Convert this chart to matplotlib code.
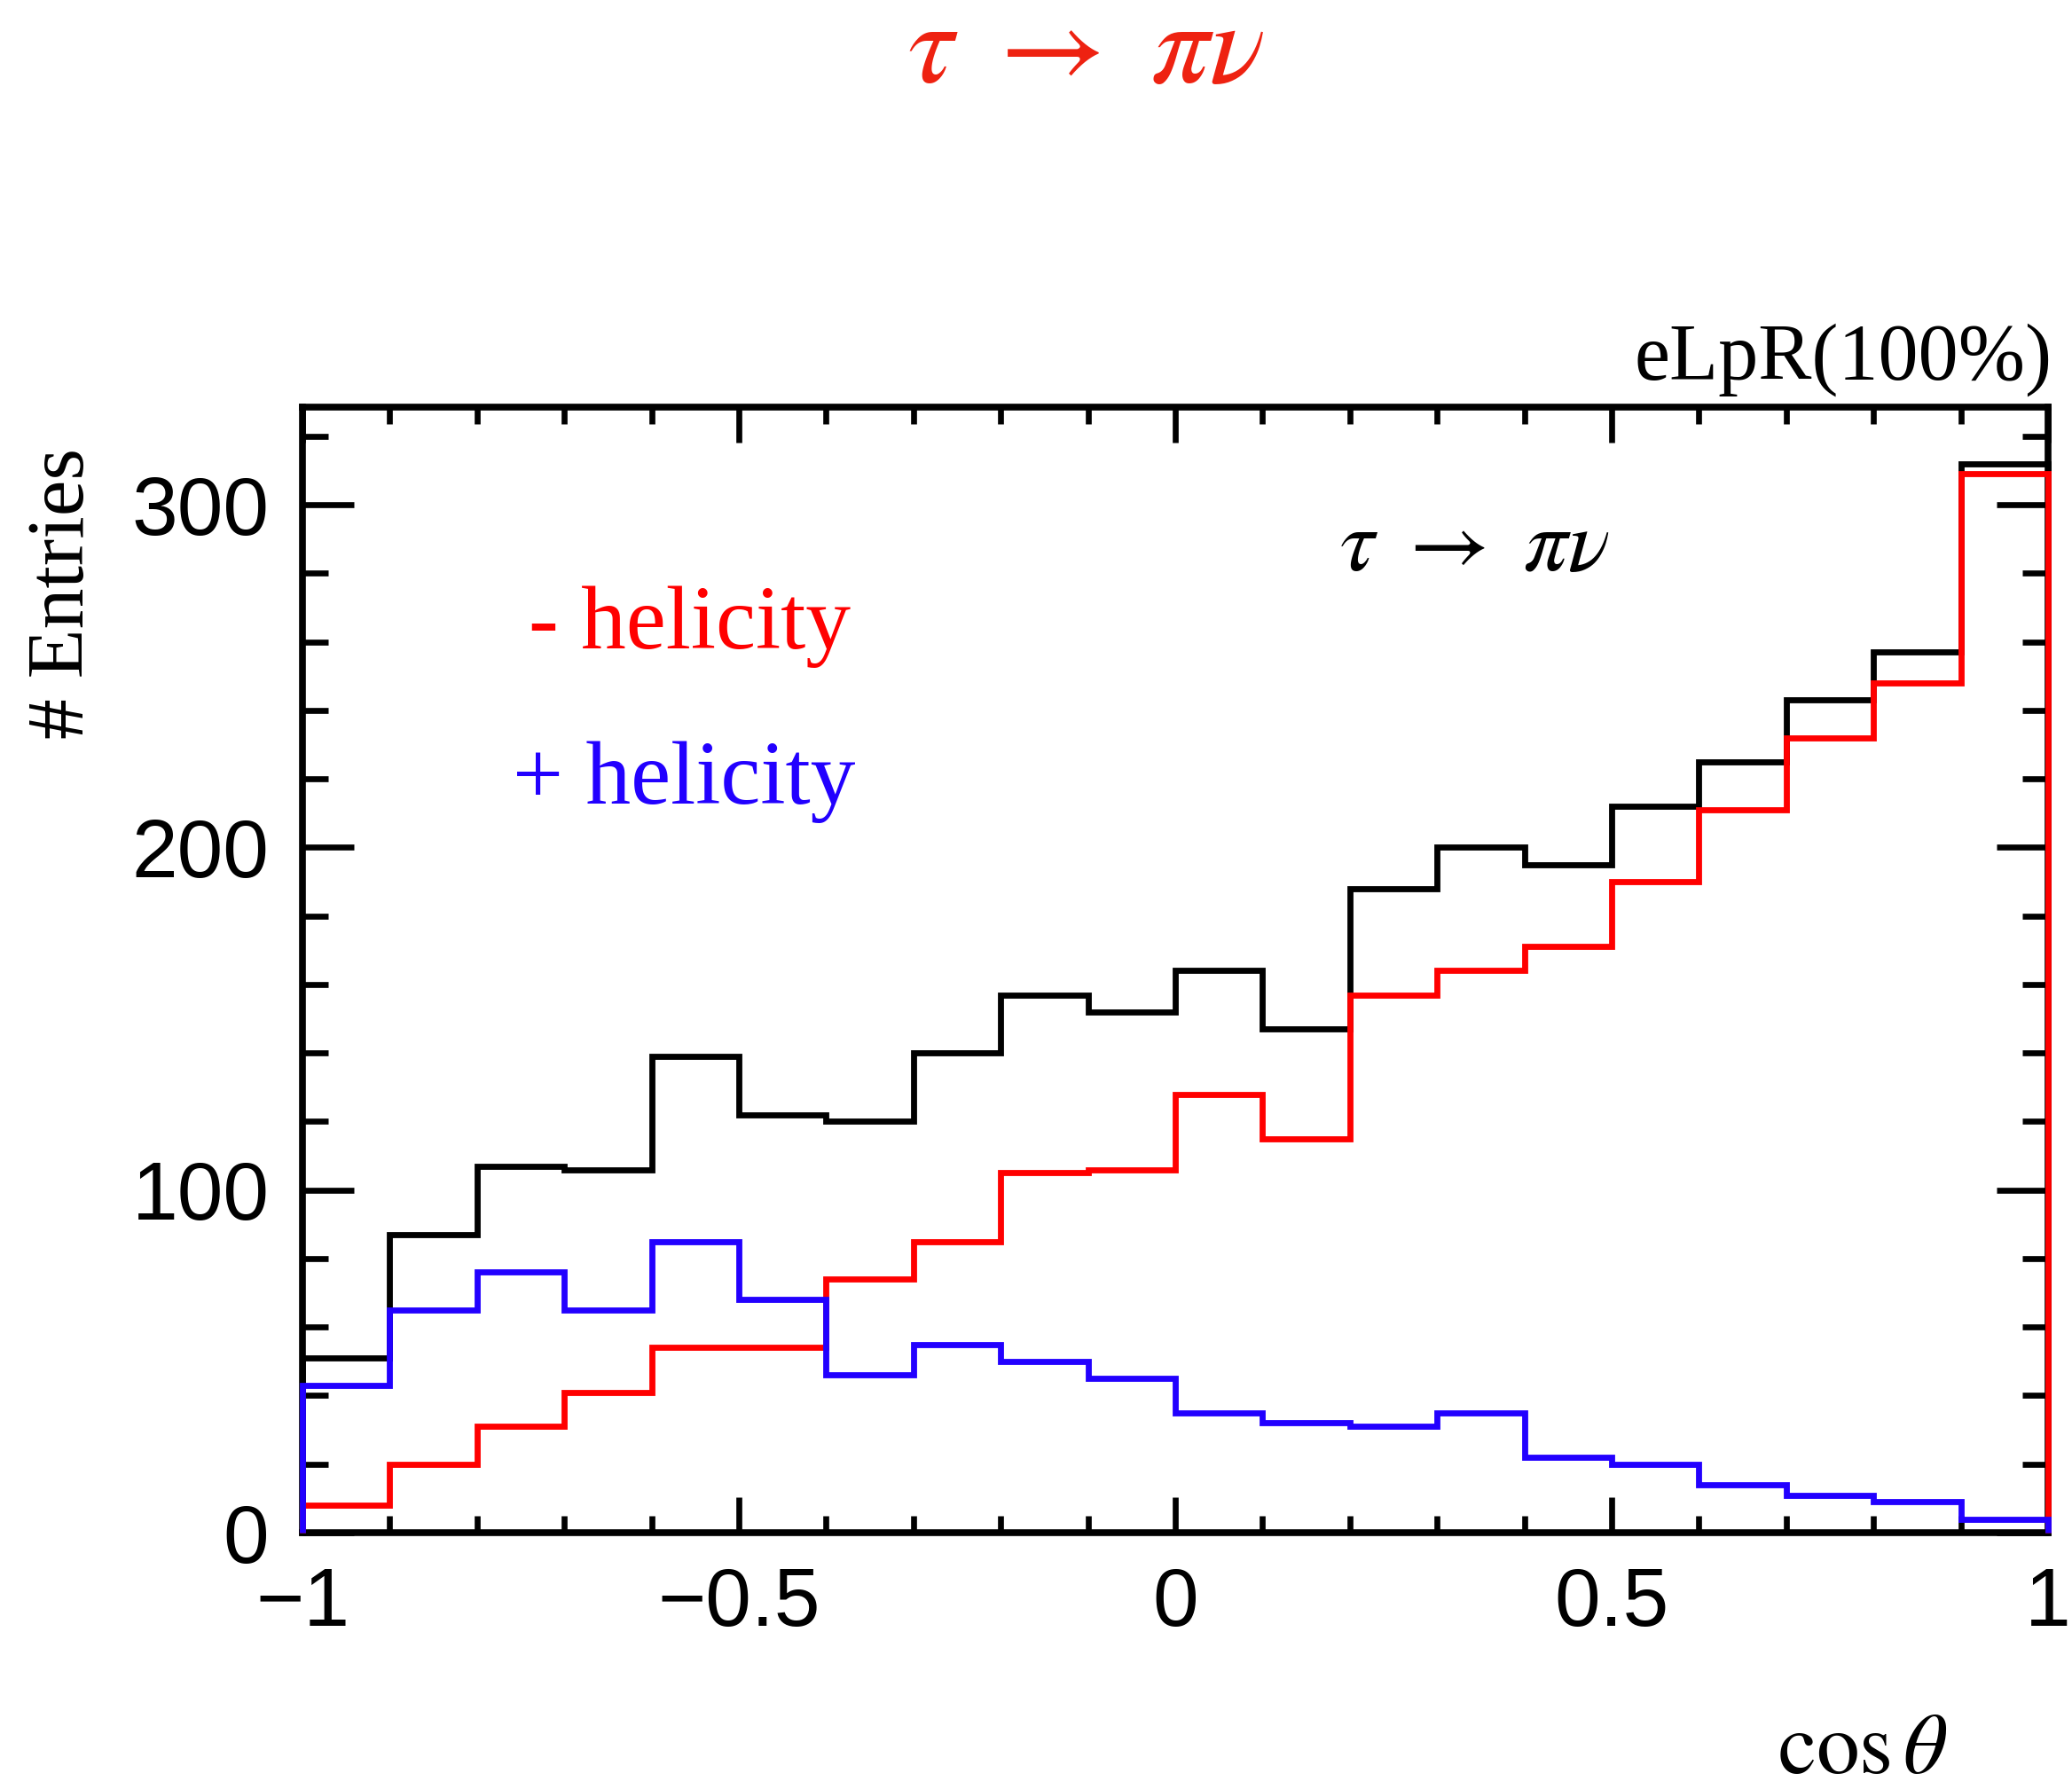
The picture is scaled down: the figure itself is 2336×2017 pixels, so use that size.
import matplotlib
matplotlib.use('Agg')
import matplotlib.pyplot as plt
import numpy as np
from matplotlib.ticker import MultipleLocator, FuncFormatter

plt.rcParams['mathtext.fontset'] = 'stix'

# ---- data ----
bin_edges = np.round(np.linspace(-1.0, 1.0, 21), 2)
total    = [51, 87, 107, 106, 139, 122, 120, 140, 157, 152, 164, 147, 188, 200, 195, 212, 225, 243, 257, 312]
neg_hel  = [8, 20, 31, 41, 54, 54, 74, 85, 105, 106, 128, 115, 157, 164, 171, 190, 211, 232, 248, 309]
pos_hel  = [43, 65, 76, 65, 85, 68, 46, 55, 50, 45, 35, 32, 31, 35, 22, 20, 14, 11, 9, 4]
x_ticks = [-1, -0.5, 0, 0.5, 1]
y_ticks = [0, 100, 200, 300]

W, H = 2336, 2017
fig = plt.figure(figsize=(W / 100, H / 100), dpi=100)
L, R, T, B = 341, 2309, 459, 1728
ax = fig.add_axes([L / W, 1 - B / H, (R - L) / W, (B - T) / H])

lw = 4.9
for vals, col in [(total, 'black'), (neg_hel, '#ff0000'), (pos_hel, '#2200ff')]:
    st = ax.stairs(vals, bin_edges, baseline=0, color=col, linewidth=lw,
                   zorder=3, clip_on=False)
    st.set_joinstyle('miter')

ax.set_xlim(-1, 1)
ax.set_ylim(0, 328.5)

ax.xaxis.set_major_locator(MultipleLocator(0.5))
ax.xaxis.set_minor_locator(MultipleLocator(0.1))
ax.yaxis.set_major_locator(MultipleLocator(100))
ax.yaxis.set_minor_locator(MultipleLocator(20))
ax.set_xticks(x_ticks)
ax.set_yticks(y_ticks)

def fmt(v, pos):
    s = '{:g}'.format(v)
    return s.replace('-', '\u2212')

ax.xaxis.set_major_formatter(FuncFormatter(fmt))
ax.yaxis.set_major_formatter(FuncFormatter(fmt))

for sp in ax.spines.values():
    sp.set_linewidth(5.5)

ax.tick_params(which='both', direction='in', top=True, right=True, width=4.8, color='black')
ax.tick_params(axis='x', which='major', length=29, pad=27)
ax.tick_params(axis='x', which='minor', length=14)
ax.tick_params(axis='y', which='major', length=42, pad=27)
ax.tick_params(axis='y', which='minor', length=21)
for lab in ax.get_xticklabels() + ax.get_yticklabels():
    lab.set_fontfamily('Liberation Sans')
    lab.set_fontsize(67)

def px(x, y):
    return x / W, 1 - y / H

# title
fig.text(*px(1224, 93), r'$\tau\ \rightarrow\ \pi\nu$', color='#ee2211',
         fontsize=94, ha='center', va='baseline')
# inner label
fig.text(*px(1662, 643), r'$\tau\ \rightarrow\ \pi\nu$', color='black',
         fontsize=71, ha='center', va='baseline')
# helicity labels
fig.text(*px(596, 731), '- helicity', color='#ff0000', fontsize=73,
         family='Liberation Serif', ha='left', va='baseline')
fig.text(*px(578, 906), '+ helicity', color='#2200ff', fontsize=73,
         family='Liberation Serif', ha='left', va='baseline')
# polarisation label
fig.text(*px(2314, 428), 'eLpR(100%)', color='black', fontsize=65,
         family='Liberation Serif', ha='right', va='baseline')
# axis titles
fig.text(*px(72, 505), '# Entries', color='black', fontsize=66, rotation=90,
         family='Liberation Serif', ha='center', va='top')
fig.text(*px(2195, 1999), r'$\mathrm{cos}\,\theta$', color='black', fontsize=70,
         ha='right', va='baseline')

fig.savefig('out.png', dpi=100, facecolor='white')
